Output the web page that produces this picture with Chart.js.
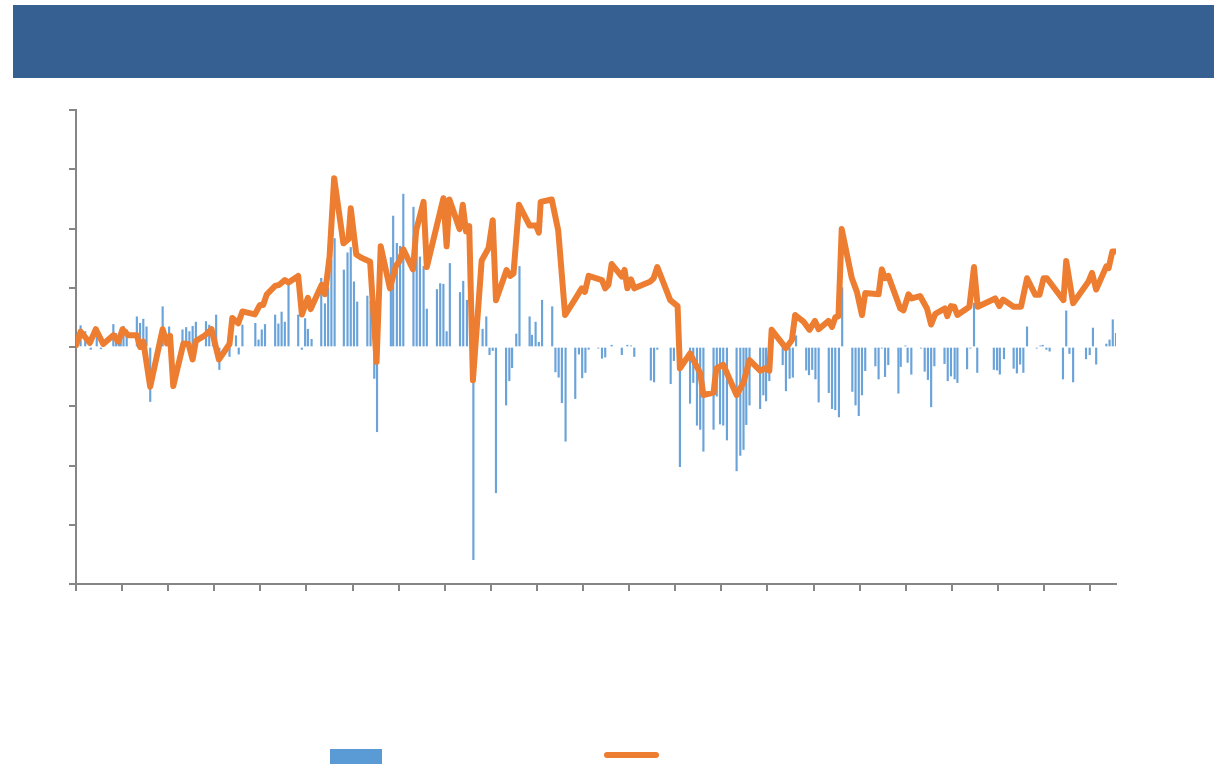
<!DOCTYPE html>
<html>
<head>
  <meta charset="UTF-8">
  <title>Chart</title>
  <script src="https://cdn.jsdelivr.net/npm/chart.js"></script>
  <style>
    body {
      margin: 0;
      background: #ffffff;
      font-family: "Liberation Sans", Arial, sans-serif;
    }
    #wrap {
      position: relative;
      width: 1214px;
      height: 764px;
      overflow: hidden;
    }
    #header {
      position: absolute;
      left: 13px;
      top: 5px;
      width: 1201px;
      height: 73px;
      background: #366092;
    }
    #chart {
      position: absolute;
      left: 0;
      top: 0;
    }
    .legendBox {
      position: absolute;
      left: 330px;
      top: 749px;
      width: 52px;
      height: 15px;
      background: #5B9BD5;
    }
    .legendLine {
      position: absolute;
      left: 604px;
      top: 752px;
      width: 55px;
      height: 6px;
      border-radius: 3px;
      background: #ED7D31;
    }
  </style>
</head>
<body>
  <div id="wrap">
    <div id="header"></div>
    <canvas id="chart" width="1214" height="764"></canvas>
    <div class="legendBox"></div>
    <div class="legendLine"></div>
  </div>

  <script>
  // x positions are in years from the start of the series
  const barX = [
    0.00, 0.10, 0.20, 0.32, 0.45, 0.54, 0.81, 0.87, 0.93, 0.97, 1.03, 1.10,
    1.32, 1.39, 1.46, 1.53, 1.61, 1.88, 2.02, 2.31, 2.39, 2.46, 2.53, 2.60,
    2.82, 2.89, 2.97, 3.04, 3.11, 3.33, 3.47, 3.53, 3.61, 3.89, 3.96, 4.03,
    4.10, 4.32, 4.39, 4.46, 4.53, 4.61, 4.82, 4.90, 4.97, 5.03, 5.11, 5.32,
    5.40, 5.47, 5.54, 5.61, 5.81, 5.89, 5.96, 6.03, 6.10, 6.32, 6.39, 6.47,
    6.53, 6.83, 6.88, 6.96, 7.03, 7.10, 7.32, 7.39, 7.46, 7.54, 7.61, 7.83,
    7.90, 7.97, 8.04, 8.11, 8.33, 8.40, 8.48, 8.62, 8.82, 8.90, 8.97, 9.04,
    9.11, 9.33, 9.40, 9.46, 9.55, 9.62, 9.84, 9.89, 9.97, 10.04, 10.11, 10.33,
    10.40, 10.47, 10.54, 10.62, 10.83, 10.91, 10.98, 11.05, 11.12, 11.33, 11.41, 11.48,
    11.62, 11.84, 11.96, 12.04, 12.11, 12.47, 12.54, 12.61, 12.90, 12.97, 13.10, 13.32,
    13.39, 13.47, 13.54, 13.61, 13.83, 13.90, 13.97, 14.04, 14.12, 14.33, 14.41, 14.48,
    14.54, 14.61, 14.84, 14.91, 14.97, 15.04, 15.33, 15.40, 15.48, 15.55, 15.62, 15.84,
    15.90, 15.97, 16.04, 16.11, 16.33, 16.40, 16.47, 16.55, 16.62, 16.84, 16.91, 16.98,
    17.05, 17.12, 17.34, 17.41, 17.48, 17.55, 17.62, 17.84, 17.89, 17.99, 18.04, 18.12,
    18.33, 18.41, 18.48, 18.55, 18.62, 18.84, 18.91, 18.98, 19.06, 19.12, 19.33, 19.40,
    19.48, 19.55, 19.91, 19.98, 20.04, 20.13, 20.34, 20.41, 20.48, 20.55, 20.63, 20.84,
    20.92, 20.97, 21.05, 21.12, 21.41, 21.48, 21.55, 21.63, 21.91, 21.99, 22.06, 22.13,
    22.35, 22.42, 22.49, 22.56
  ];
  const barValues = [
    0.10, 0.36, 0.26, -0.04, 0.23, -0.03, 0.38, 0.23, 0.20, 0.23, 0.35, 0.29,
    0.51, 0.40, 0.47, 0.34, -0.92, 0.68, 0.34, 0.29, 0.33, 0.26, 0.35, 0.42,
    0.43, 0.37, 0.32, 0.54, -0.38, -0.16, 0.19, -0.12, 0.37, 0.40, 0.12, 0.29,
    0.38, 0.54, 0.39, 0.59, 0.42, 1.10, 0.54, -0.04, 0.48, 0.30, 0.13, 1.16,
    0.73, 1.00, 1.47, 1.83, 1.30, 1.59, 1.68, 1.10, 0.76, 0.86, 0.77, -0.53,
    -1.43, 1.51, 2.21, 1.75, 1.70, 2.58, 2.36, 1.92, 1.52, 1.36, 0.64, 0.97,
    1.07, 1.06, 0.26, 1.41, 0.92, 1.11, 0.79, -3.59, 0.30, 0.51, -0.13, -0.06,
    -2.46, -0.98, -0.57, -0.35, 0.22, 1.36, 0.51, 0.20, 0.42, 0.08, 0.79, 0.68,
    -0.42, -0.51, -0.94, -1.59, -0.87, -0.12, -0.52, -0.43, -0.04, -0.02, -0.19, -0.17,
    0.03, -0.13, 0.03, 0.02, -0.16, -0.56, -0.59, -0.04, -0.62, -0.23, -2.02, -0.95,
    -0.60, -1.32, -1.39, -1.76, -1.39, -0.83, -1.30, -1.32, -1.57, -2.09, -1.83, -1.73,
    -1.31, -0.98, -1.04, -0.81, -0.91, -0.57, -0.30, -0.74, -0.53, -0.51, 0.19, -0.39,
    -0.47, -0.38, -0.54, -0.93, -0.77, -1.04, -1.06, -1.18, 1.00, -0.75, -0.98, -1.16,
    -0.81, -0.40, -0.32, -0.54, -0.02, -0.50, -0.30, -0.78, -0.33, 0.02, -0.26, -0.46,
    -0.02, -0.41, -0.55, -1.01, -0.32, -0.28, -0.57, -0.49, -0.54, -0.60, -0.37, -0.02,
    0.74, -0.43, -0.38, -0.39, -0.46, -0.20, -0.36, -0.44, -0.29, -0.43, 0.34, -0.02,
    0.02, 0.03, -0.04, -0.07, -0.54, 0.61, -0.11, -0.59, -0.20, -0.13, 0.32, -0.29,
    0.05, 0.12, 0.46, 0.23
  ];

  const lineX = [
    0.00, 0.10, 0.30, 0.43, 0.59, 0.81, 0.92, 1.01, 1.13, 1.32, 1.39, 1.46,
    1.61, 1.88, 1.97, 2.04, 2.11, 2.33, 2.44, 2.53, 2.60, 2.80, 2.94, 3.10,
    3.33, 3.39, 3.52, 3.61, 3.88, 3.99, 4.06, 4.14, 4.32, 4.41, 4.53, 4.61,
    4.82, 4.90, 5.03, 5.09, 5.33, 5.40, 5.50, 5.60, 5.80, 5.91, 5.96, 6.08,
    6.18, 6.38, 6.52, 6.61, 6.81, 6.94, 7.01, 7.10, 7.31, 7.38, 7.54, 7.61,
    7.97, 8.04, 8.10, 8.32, 8.39, 8.46, 8.53, 8.61, 8.80, 8.95, 9.04, 9.11,
    9.34, 9.42, 9.49, 9.61, 9.84, 9.98, 10.04, 10.08, 10.32, 10.46, 10.61, 10.86,
    10.97, 11.04, 11.12, 11.41, 11.48, 11.55, 11.62, 11.84, 11.90, 11.96, 12.04, 12.11,
    12.45, 12.53, 12.61, 12.89, 13.05, 13.10, 13.32, 13.54, 13.61, 13.83, 13.89, 14.04,
    14.33, 14.48, 14.61, 14.84, 14.95, 15.04, 15.09, 15.40, 15.53, 15.60, 15.78, 15.91,
    16.03, 16.11, 16.32, 16.40, 16.47, 16.54, 16.61, 16.83, 16.94, 17.05, 17.12, 17.41,
    17.48, 17.55, 17.62, 17.88, 17.95, 18.06, 18.13, 18.31, 18.46, 18.55, 18.64, 18.85,
    18.90, 18.98, 19.05, 19.12, 19.38, 19.48, 19.56, 19.94, 20.03, 20.11, 20.34, 20.50,
    20.63, 20.81, 20.90, 20.99, 21.06, 21.42, 21.48, 21.63, 21.96, 22.04, 22.13, 22.35,
    22.40, 22.48, 22.56
  ];
  const lineValues = [
    0.03, 0.26, 0.07, 0.30, 0.05, 0.20, 0.09, 0.30, 0.20, 0.20, 0.00, 0.09,
    -0.67, 0.30, 0.06, 0.19, -0.66, 0.06, 0.05, -0.21, 0.10, 0.20, 0.30, -0.21,
    0.05, 0.49, 0.40, 0.60, 0.55, 0.71, 0.71, 0.89, 1.03, 1.05, 1.13, 1.09,
    1.20, 0.55, 0.83, 0.64, 1.05, 0.89, 1.52, 2.85, 1.75, 1.82, 2.34, 1.56,
    1.51, 1.44, -0.25, 1.70, 0.99, 1.37, 1.44, 1.65, 1.31, 1.97, 2.45, 1.35,
    2.51, 1.70, 2.49, 1.99, 2.40, 1.95, 2.04, -0.56, 1.46, 1.67, 2.14, 0.79,
    1.30, 1.20, 1.24, 2.40, 2.05, 2.05, 1.93, 2.45, 2.49, 1.97, 0.54, 0.85,
    0.99, 0.93, 1.20, 1.13, 0.99, 1.05, 1.40, 1.19, 1.30, 0.99, 1.14, 0.99,
    1.10, 1.16, 1.35, 0.79, 0.69, -0.36, -0.11, -0.44, -0.81, -0.77, -0.36, -0.30,
    -0.81, -0.60, -0.22, -0.40, -0.36, -0.40, 0.29, -0.02, 0.12, 0.54, 0.43, 0.29,
    0.44, 0.30, 0.44, 0.34, 0.50, 0.52, 1.99, 1.16, 0.93, 0.54, 0.91, 0.89,
    1.31, 1.16, 1.20, 0.65, 0.62, 0.89, 0.82, 0.86, 0.65, 0.38, 0.56, 0.65,
    0.52, 0.69, 0.68, 0.54, 0.68, 1.35, 0.68, 0.82, 0.69, 0.80, 0.68, 0.68,
    1.16, 0.88, 0.88, 1.16, 1.16, 0.79, 1.45, 0.74, 1.10, 1.25, 0.97, 1.36,
    1.33, 1.61, 1.61
  ];

  // axis ranges
  const yMin = -4, yMax = 4, yStep = 1;
  const xMin = 0, xMax = 22.56, xStep = 1;

  const axisColor = '#868686';

  const barData = barX.map((x, i) => ({ x: x, y: barValues[i] }));
  const lineData = lineX.map((x, i) => ({ x: x, y: lineValues[i] }));

  const chart = new Chart(document.getElementById('chart'), {
    data: {
      datasets: [
        {
          type: 'line',
          data: lineData,
          borderColor: '#ED7D31',
          borderWidth: 6,
          borderJoinStyle: 'round',
          borderCapStyle: 'round',
          pointRadius: 0,
          tension: 0,
          order: 1
        },
        {
          type: 'bar',
          data: barData,
          backgroundColor: '#6AA3DA',
          barThickness: 1.5,
          order: 2
        }
      ]
    },
    options: {
      responsive: false,
      animation: false,
      events: [],
      layout: {
        padding: { left: 69, right: 98, top: 110, bottom: 173 }
      },
      plugins: {
        legend: { display: false },
        tooltip: { enabled: false }
      },
      scales: {
        x: {
          type: 'linear',
          offset: false,
          min: xMin,
          max: xMax,
          afterFit: (scale) => { scale.height = 7; },
          ticks: {
            stepSize: xStep,
            includeBounds: false,
            padding: 0,
            callback: () => ''
          },
          grid: {
            offset: false,
            drawOnChartArea: false,
            drawTicks: true,
            tickLength: 7,
            color: axisColor,
            lineWidth: 2
          },
          border: { color: axisColor, width: 2 }
        },
        y: {
          min: yMin,
          max: yMax,
          afterFit: (scale) => { scale.width = 7; },
          ticks: {
            stepSize: yStep,
            padding: 0,
            callback: () => ''
          },
          grid: {
            drawOnChartArea: false,
            drawTicks: true,
            tickLength: 7,
            color: axisColor,
            lineWidth: 2
          },
          border: { color: axisColor, width: 2 }
        }
      }
    }
  });
  </script>
</body>
</html>
